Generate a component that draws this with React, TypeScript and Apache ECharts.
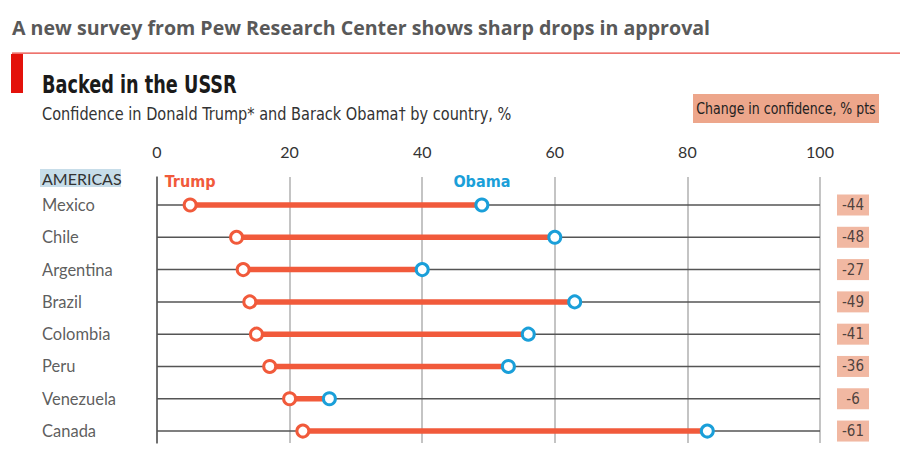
import React, { useEffect, useRef } from "react";
import * as echarts from "echarts";

const countries = ["Mexico", "Chile", "Argentina", "Brazil", "Colombia", "Peru", "Venezuela", "Canada"];
const trump = [5, 12, 13, 14, 15, 17, 20, 22];
const obama = [49, 60, 40, 63, 56, 53, 26, 83];
const changes = [-44, -48, -27, -49, -41, -36, -6, -61];
const xTicks = [0, 20, 40, 60, 80, 100];

const ORANGE = "#f15a3b";
const BLUE = "#1a9fd9";
const SALMON = "#eda68b";
const COND = '"Liberation Sans Narrow", "DejaVu Sans Condensed", Lato, sans-serif';
const BODY = 'Lato, "Open Sans", sans-serif';

export default function App() {
  const ref = useRef<HTMLDivElement>(null);
  useEffect(() => {
    const chart = echarts.init(ref.current!, null, { renderer: "svg" });
    const rows = countries.map((c, i) => i);
    const option: any = {
      animation: false,
      backgroundColor: "#ffffff",
      grid: { left: 157, right: 91, top: 177, height: 266 },
      xAxis: {
        type: "value",
        position: "top",
        min: 0,
        max: 100,
        interval: 20,
        axisLine: { show: false },
        axisTick: { show: false },
        axisLabel: {
          margin: 18,
          fontSize: 16,
          color: "#333",
          fontFamily: BODY,
          formatter: (v: number) => (xTicks.includes(v) ? String(v) : ""),
        },
        splitLine: { show: true, lineStyle: { color: "#c4c4c4", width: 2 } },
      },
      yAxis: {
        type: "value",
        inverse: true,
        min: -0.867,
        max: 7.37,
        axisLabel: { show: false },
        axisTick: { show: false },
        splitLine: { show: false },
        axisLine: { show: true, lineStyle: { color: "#555", width: 1.5 } },
      },
      graphic: [
        {
          type: "text",
          x: 12,
          y: 27,
          style: {
            text: "A new survey from Pew Research Center shows sharp drops in approval",
            font: '700 19.6px "Open Sans", sans-serif',
            fill: "#595959",
            textVerticalAlign: "middle",
          },
        },
        { type: "rect", shape: { x: 12, y: 52.5, width: 888, height: 1.2 }, style: { fill: "#e8453c" } },
        { type: "rect", shape: { x: 11, y: 54, width: 12, height: 39 }, style: { fill: "#e3120b" } },
        {
          type: "text",
          x: 42,
          y: 85,
          scaleX: 0.82,
          style: {
            text: "Backed in the USSR",
            font: `700 24px ${COND}`,
            fill: "#1a1a1a",
            textVerticalAlign: "middle",
          },
        },
        {
          type: "text",
          x: 42,
          y: 114,
          scaleX: 0.95,
          style: {
            text: "Confidence in Donald Trump* and Barack Obama\u2020 by country, %",
            font: `400 17px ${COND}`,
            fill: "#333",
            textVerticalAlign: "middle",
          },
        },
        { type: "rect", shape: { x: 693, y: 94, width: 186, height: 29 }, style: { fill: SALMON } },
        {
          type: "text",
          x: 786,
          y: 108.5,
          scaleX: 0.93,
          style: {
            text: "Change in confidence, % pts",
            font: `400 15px ${COND}`,
            fill: "#222",
            textAlign: "center",
            textVerticalAlign: "middle",
          },
        },
        { type: "rect", shape: { x: 40, y: 169, width: 81, height: 18 }, style: { fill: "#c7dde9" } },
        {
          type: "text",
          x: 42,
          y: 178.5,
          style: {
            text: "AMERICAS",
            font: `400 16px ${BODY}`,
            fill: "#333",
            textVerticalAlign: "middle",
          },
        },
      ],
      series: [
        {
          type: "custom",
          data: rows.map((i) => [i, trump[i], obama[i]]),
          encode: { y: 0, x: [1, 2] },
          z: 2,
          renderItem: (params: any, api: any) => {
            const i = api.value(0);
            const t = api.value(1);
            const o = api.value(2);
            const a = api.coord([0, i]);
            const b = api.coord([100, i]);
            const pt = api.coord([t, i]);
            const po = api.coord([o, i]);
            return {
              type: "group",
              children: [
                {
                  type: "line",
                  shape: { x1: a[0], y1: a[1], x2: b[0], y2: b[1] },
                  style: { stroke: "#555", lineWidth: 1.5 },
                },
                {
                  type: "line",
                  shape: { x1: pt[0], y1: pt[1], x2: po[0], y2: po[1] },
                  style: { stroke: ORANGE, lineWidth: 5.5 },
                },
              ],
            };
          },
        },
        {
          type: "scatter",
          name: "Trump",
          z: 3,
          symbolSize: 12,
          itemStyle: { color: "#fff", borderColor: ORANGE, borderWidth: 3, opacity: 1 },
          data: rows.map((i) => ({
            value: [trump[i], i],
            label:
              i === 0
                ? {
                    show: true,
                    position: "top",
                    distance: 8,
                    formatter: "Trump",
                    color: ORANGE,
                    fontSize: 16,
                    fontWeight: "bold",
                    fontFamily: COND,
                  }
                : { show: false },
          })),
        },
        {
          type: "scatter",
          name: "Obama",
          z: 3,
          symbolSize: 12,
          itemStyle: { color: "#fff", borderColor: BLUE, borderWidth: 3, opacity: 1 },
          data: rows.map((i) => ({
            value: [obama[i], i],
            label:
              i === 0
                ? {
                    show: true,
                    position: "top",
                    distance: 8,
                    formatter: "Obama",
                    color: BLUE,
                    fontSize: 16,
                    fontWeight: "bold",
                    fontFamily: COND,
                  }
                : { show: false },
          })),
        },
        {
          type: "scatter",
          name: "labels",
          symbolSize: 0,
          silent: true,
          data: rows.map((i) => ({ value: [0, i], name: countries[i] })),
          label: {
            show: true,
            position: [-115, 0],
            align: "left",
            verticalAlign: "middle",
            formatter: (p: any) => p.name,
            fontSize: 16.5,
            fontFamily: BODY,
            color: "#333",
          },
        },
        {
          type: "scatter",
          name: "change",
          symbolSize: 0,
          silent: true,
          data: rows.map((i) => ({ value: [100, i], name: String(changes[i]) })),
          label: {
            show: true,
            position: [33, 0],
            align: "center",
            verticalAlign: "middle",
            formatter: (p: any) => p.name,
            fontSize: 15,
            lineHeight: 15,
            width: 24,
            padding: [3, 4],
            backgroundColor: SALMON,
            fontFamily: COND,
            color: "#222",
          },
        },
      ],
    };
    chart.setOption(option);
    return () => chart.dispose();
  }, []);
  return (
    <div
      ref={ref}
      style={{ position: "absolute", left: 0, top: 0, width: 911, height: 460 }}
    />
  );
}
